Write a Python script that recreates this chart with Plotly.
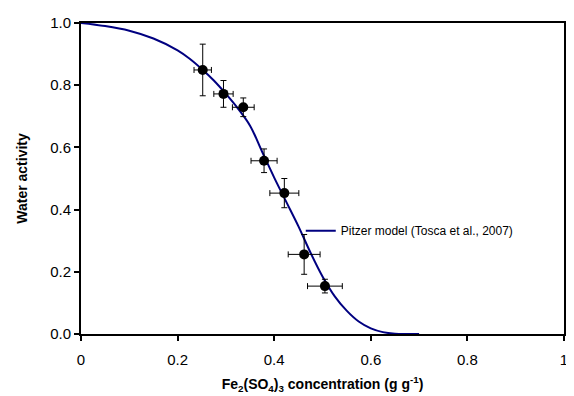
import plotly.graph_objects as go

# Measured data (Fe2(SO4)3 concentration vs water activity)
conc = [0.252, 0.295, 0.336, 0.379, 0.421, 0.462, 0.505]
aw = [0.849, 0.772, 0.729, 0.557, 0.453, 0.256, 0.154]
conc_err = [0.018, 0.020, 0.0225, 0.027, 0.030, 0.033, 0.036]
aw_err = [0.083, 0.043, 0.030, 0.038, 0.047, 0.064, 0.022]

# Pitzer model curve (Tosca et al., 2007)
model_x = [0, 0.05, 0.1, 0.15, 0.2, 0.225, 0.25, 0.275, 0.3, 0.325, 0.35, 0.375,
           0.4, 0.425, 0.45, 0.475, 0.5, 0.525, 0.55, 0.575, 0.6, 0.625, 0.65, 0.675, 0.7]
model_y = [1.0, 0.99, 0.975, 0.95, 0.912, 0.885, 0.852, 0.815, 0.772, 0.725, 0.67, 0.586,
           0.503, 0.425, 0.347, 0.262, 0.185, 0.122, 0.075, 0.04, 0.018, 0.006, 0.001, 0.0, 0.0]

x_ticks = [0, 0.2, 0.4, 0.6, 0.8, 1]
x_labels = ["0", "0.2", "0.4", "0.6", "0.8", "1"]
y_ticks = [0, 0.2, 0.4, 0.6, 0.8, 1.0]

font = "Liberation Sans, Arial, sans-serif"

fig = go.Figure()
fig.add_trace(go.Scatter(
    x=model_x, y=model_y, mode="lines", line=dict(color="#000080", width=2, shape="spline"),
    name="Pitzer model (Tosca et al., 2007)", showlegend=True))
fig.add_trace(go.Scatter(
    x=conc, y=aw, mode="markers",
    marker=dict(color="black", size=10),
    error_x=dict(type="data", array=conc_err, color="black", thickness=1, width=3),
    error_y=dict(type="data", array=aw_err, color="black", thickness=1, width=3),
    showlegend=False))

# the page body adds an 8px offset, so the figure is 8px smaller on each axis
fig.update_layout(
    width=566, height=388,
    margin=dict(l=73, r=6, t=14, b=61),
    paper_bgcolor="white", plot_bgcolor="white",
    font=dict(family=font, size=15, color="black"),
    legend=dict(x=0.455, y=0.332, xanchor="left", yanchor="middle",
                bgcolor="rgba(0,0,0,0)", font=dict(size=12, family=font)),
    xaxis=dict(range=[0, 1], tickvals=x_ticks, ticktext=x_labels,
               showgrid=False, zeroline=False, showline=True, linecolor="black", linewidth=2,
               mirror=True, ticks="outside", ticklen=5, tickcolor="black", tickwidth=1.5,
               tickfont=dict(size=15), ticklabelstandoff=6,
               title=dict(text="<b>Fe<sub>2</sub>(SO<sub>4</sub>)<sub>3</sub> concentration (g g<sup>-1</sup>)</b>",
                          font=dict(size=14), standoff=12)),
    yaxis=dict(range=[0, 1], tickvals=y_ticks, tickformat=".1f",
               showgrid=False, zeroline=False, showline=True, linecolor="black", linewidth=2,
               mirror=True, ticks="outside", ticklen=5, tickcolor="black", tickwidth=1.5,
               tickfont=dict(size=15),
               title=dict(text="<b>Water activity</b>", font=dict(size=14), standoff=19)),
)

fig.write_html("out.html")
